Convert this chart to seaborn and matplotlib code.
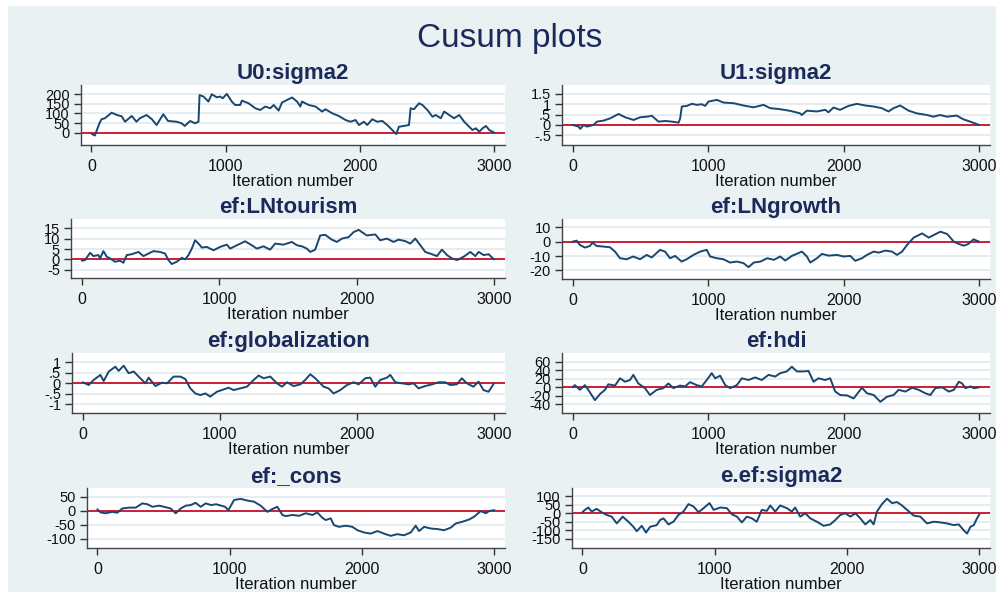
import matplotlib
matplotlib.use("Agg")
import matplotlib.pyplot as plt
import seaborn as sns
import pandas as pd
from matplotlib.patches import Rectangle

sns.set_theme(style="white")
plt.rcParams['font.family'] = ['Liberation Sans', 'DejaVu Sans']

# ---------------- data ----------------
main_title = "Cusum plots"
panel_titles = ["U0:sigma2", "U1:sigma2", "ef:LNtourism", "ef:LNgrowth",
                "ef:globalization", "ef:hdi", "ef:_cons", "e.ef:sigma2"]
x_label = "Iteration number"
x_ticks = [0, 1000, 2000, 3000]

u0_iter = [0, 25, 60, 75, 100, 150, 190, 225, 250, 300, 335, 360, 410, 450, 485, 535, 570, 635, 670, 695,
           735, 770, 797, 805, 834, 871, 896, 933, 958, 978, 1008, 1045, 1070, 1108, 1120, 1170, 1220, 1257,
           1295, 1332, 1357, 1394, 1419, 1456, 1494, 1531, 1556, 1568, 1618, 1668, 1718, 1743, 1793, 1842,
           1892, 1929, 1967, 1992, 2029, 2054, 2091, 2128, 2166, 2203, 2240, 2270, 2290, 2327, 2365, 2377,
           2402, 2440, 2465, 2502, 2540, 2564, 2602, 2627, 2664, 2701, 2739, 2776, 2813, 2838, 2863, 2888,
           2913, 2938, 2963, 3000]
u0_vals = [-5, -15, 50, 70, 75, 104, 92, 85, 57, 87, 57, 75, 92, 70, 40, 96, 61, 57, 49, 35,
           61, 49, 57, 196, 188, 162, 200, 184, 188, 179, 202, 162, 144, 144, 167, 153, 127, 118,
           136, 127, 144, 115, 157, 170, 183, 162, 136, 162, 144, 136, 110, 122, 101, 87,
           66, 57, 66, 40, 57, 40, 70, 57, 61, 40, 14, -7, 31, 35, 40, 127,
           122, 153, 144, 118, 83, 92, 75, 110, 92, 75, 92, 57, 31, 14, 23, 5,
           23, 35, 14, 0]

u1_iter = [0, 44, 57, 81, 106, 155, 180, 229, 278, 339, 388, 450, 499, 548, 585, 634, 684, 733, 782, 794,
           806, 843, 880, 917, 954, 978, 1003, 1065, 1114, 1188, 1261, 1335, 1409, 1458, 1532, 1606, 1679,
           1691, 1729, 1802, 1864, 1888, 1925, 1974, 2036, 2098, 2159, 2221, 2282, 2331, 2368, 2417, 2479,
           2540, 2614, 2663, 2712, 2761, 2835, 2884, 2934, 3000]
u1_vals = [0, -0.08, -0.19, 0, -0.08, 0, 0.16, 0.21, 0.32, 0.53, 0.37, 0.24, 0.37, 0.40, 0.44, 0.16, 0.19,
           0.16, 0.11, 0.32, 0.89, 0.92, 1.02, 0.97, 1.00, 0.92, 1.13, 1.21, 1.08, 1.05, 0.94, 0.85, 0.97,
           0.81, 0.76, 0.68, 0.56, 0.48, 0.69, 0.65, 0.73, 0.61, 0.84, 0.73, 0.92, 1.02, 0.94, 0.89, 0.81,
           0.65, 0.81, 0.94, 0.69, 0.56, 0.48, 0.40, 0.48, 0.40, 0.45, 0.27, 0.16, 0]

tour_iter = [0, 24, 61, 85, 121, 133, 158, 182, 206, 243, 279, 303, 328, 364, 413, 449, 485, 522, 570, 607,
             631, 655, 692, 728, 752, 777, 801, 825, 850, 874, 910, 959, 1007, 1056, 1080, 1129, 1189, 1238,
             1274, 1323, 1371, 1408, 1468, 1529, 1566, 1602, 1638, 1663, 1699, 1735, 1772, 1820, 1857, 1893,
             1942, 1978, 2015, 2039, 2075, 2136, 2172, 2221, 2269, 2306, 2354, 2391, 2427, 2464, 2500, 2549,
             2585, 2621, 2658, 2694, 2731, 2779, 2828, 2864, 2888, 2925, 2961, 3000]
tour_vals = [-0.6, -0.3, 3.2, 1.6, 2.1, 0.5, 4.0, 1.3, 0.5, -1.1, -0.6, -1.6, 2.1, 2.5, 3.6, 1.6, 2.8, 4.0,
             3.6, 2.8, -0.3, -2.2, -1.1, 0.8, 0, 2.1, 5.2, 9.2, 7.6, 5.7, 6.0, 4.4, 6.0, 7.1, 5.2, 6.8, 8.7,
             6.8, 5.2, 6.3, 4.7, 7.6, 7.1, 8.4, 6.8, 6.3, 5.2, 3.6, 4.7, 11.5, 11.8, 9.5, 8.4, 10.0, 10.7,
             13.1, 14.2, 13.1, 11.5, 12.0, 9.2, 10.0, 8.4, 9.5, 8.8, 7.6, 10.0, 6.8, 3.6, 2.5, 1.6, 4.7,
             2.1, 0.5, -0.3, 1.3, 3.6, 1.6, 3.6, 2.1, 2.5, 0]

grow_iter = [0, 30, 54, 91, 128, 148, 177, 227, 276, 313, 350, 399, 448, 498, 547, 584, 645, 682, 719, 756,
             805, 842, 892, 941, 990, 1015, 1064, 1113, 1162, 1212, 1261, 1298, 1337, 1387, 1436, 1485, 1532,
             1569, 1618, 1692, 1729, 1754, 1803, 1840, 1889, 1951, 2000, 2049, 2086, 2135, 2172, 2222, 2259,
             2308, 2357, 2394, 2431, 2468, 2517, 2579, 2628, 2665, 2714, 2764, 2813, 2850, 2887, 2921, 2958,
             3000]
grow_vals = [0, 0.7, -2.3, -4.1, -3.0, -0.7, -3.0, -3.4, -3.9, -6.9, -11.5, -12.2, -10.3, -12.2, -9.2, -11.0,
             -5.7, -6.9, -11.5, -9.9, -13.8, -12.2, -9.2, -6.9, -5.7, -10.3, -11.5, -12.2, -14.5, -13.8,
             -14.9, -17.7, -14.5, -13.8, -11.5, -12.6, -10.3, -13.1, -9.9, -6.9, -10.3, -14.5, -11.5, -8.5,
             -9.7, -9.2, -10.3, -9.9, -13.3, -11.5, -9.2, -6.9, -7.6, -6.2, -6.9, -9.2, -6.9, -2.3, 2.8, 5.7,
             2.8, 4.6, 6.9, 5.3, 0, -1.6, -2.8, -1.6, 1.6, 0]

glob_iter = [0, 44, 80, 129, 153, 190, 238, 262, 299, 335, 372, 420, 457, 481, 530, 578, 615, 663, 712, 748,
             785, 821, 858, 894, 930, 979, 1015, 1064, 1101, 1149, 1198, 1247, 1283, 1320, 1368, 1417, 1453,
             1490, 1538, 1587, 1623, 1660, 1696, 1733, 1757, 1793, 1830, 1879, 1927, 1976, 2012, 2061, 2097,
             2134, 2170, 2219, 2243, 2280, 2328, 2377, 2413, 2449, 2498, 2547, 2595, 2644, 2680, 2729, 2765,
             2802, 2850, 2887, 2923, 2960, 3000]
glob_vals = [0.05, -0.08, 0.16, 0.40, 0.11, 0.56, 0.79, 0.59, 0.84, 0.48, 0.56, 0.24, 0, 0.27, -0.13, 0.03,
             0, 0.32, 0.32, 0.21, -0.24, -0.48, -0.56, -0.48, -0.63, -0.40, -0.32, -0.21, -0.32, -0.24, -0.16,
             0.16, 0.37, 0.24, 0.32, 0, -0.16, 0.05, -0.13, -0.05, 0.16, 0.43, 0.24, 0, -0.16, -0.24, -0.48,
             -0.32, -0.08, 0.05, -0.05, 0.24, 0.27, -0.16, 0.16, 0.27, 0.40, 0.05, 0, -0.05, 0, -0.24, -0.13,
             -0.05, 0.05, 0.05, -0.08, -0.05, 0.24, 0, -0.16, 0.08, -0.32, -0.40, 0]

hdi_iter = [0, 17, 54, 91, 116, 165, 202, 239, 264, 313, 350, 387, 424, 448, 485, 534, 571, 621, 670, 707,
            744, 793, 830, 867, 916, 953, 990, 1027, 1052, 1089, 1126, 1163, 1212, 1249, 1298, 1347, 1396,
            1446, 1495, 1532, 1581, 1618, 1655, 1704, 1741, 1778, 1815, 1864, 1901, 1938, 1975, 2025, 2074,
            2135, 2172, 2222, 2271, 2320, 2369, 2406, 2456, 2505, 2554, 2603, 2640, 2677, 2727, 2776, 2813,
            2850, 2874, 2899, 2936, 2961, 3000]
hdi_vals = [0, 5, -6, 5, -6, -30, -16, -6, 7, 4, 21, 13, 17, 29, 9, -2, -18, -6, -2, 9,
            -2, 4, 2, 12, 5, 2, 17, 33, 21, 27, 5, -2, 5, 21, 17, 23, 17,
            29, 25, 33, 37, 48, 37, 37, 38, 13, 21, 17, 21, -10, -18, -19, -26,
            -1, -14, -18, -34, -22, -18, -6, -10, -1, -6, -14, -18, -2, 0, -10, -6,
            13, 9, -2, 2, -2, 0]

cons_iter = [0, 25, 63, 113, 151, 189, 239, 290, 340, 378, 416, 466, 504, 554, 592, 630, 668, 705, 743, 781,
             819, 859, 897, 935, 965, 990, 1033, 1083, 1134, 1184, 1234, 1285, 1322, 1360, 1398, 1423, 1474,
             1524, 1574, 1625, 1662, 1700, 1725, 1763, 1788, 1826, 1877, 1927, 1965, 2015, 2065, 2116, 2166,
             2216, 2267, 2317, 2368, 2405, 2431, 2469, 2519, 2569, 2620, 2670, 2708, 2758, 2809, 2847, 2897,
             2935, 2960, 3000]
cons_vals = [5, -6, -9, -4, -7, 8, 11, 11, 26, 23, 14, 18, 14, 8, -9, 8, 18, 20, 28, 14,
             26, 20, 23, 18, 14, 2, 38, 42, 36, 32, 18, -4, 6, 14, -15, -19, -15,
             -18, -9, -15, -6, -25, -33, -27, -51, -57, -53, -57, -69, -77, -81, -72, -81,
             -89, -83, -87, -77, -53, -72, -57, -63, -65, -69, -60, -45, -39, -31, -21, -1,
             -9, -1, 2]

esig_iter = [0, 20, 45, 71, 108, 146, 184, 222, 260, 305, 348, 386, 411, 449, 481, 512, 562, 587, 613, 651,
             688, 726, 764, 802, 840, 878, 916, 961, 992, 1043, 1092, 1130, 1168, 1205, 1243, 1281, 1318, 1356,
             1394, 1420, 1457, 1495, 1545, 1583, 1608, 1646, 1684, 1722, 1772, 1823, 1873, 1911, 1949, 1987,
             2025, 2063, 2100, 2138, 2176, 2201, 2226, 2264, 2302, 2340, 2378, 2415, 2453, 2504, 2554, 2604,
             2655, 2705, 2755, 2806, 2844, 2881, 2907, 2932, 2957, 2982, 3000]
esig_vals = [6, 20, 34, 10, 26, 6, -10, -20, -60, -20, -50, -80, -106, -74, -114, -80, -70, -40, -30, -66,
             -50, -10, 10, 54, 40, 6, 30, 60, 20, 34, 30, -6, -20, -54, -20, -30, -50, 20,
             14, 46, 10, 46, 30, 10, 34, -20, 0, -30, -50, -74, -66, -40, -10, 0,
             -20, 0, -30, -66, -40, -66, 10, 54, 86, 60, 66, 46, 20, -14, -20, -60,
             -50, -54, -60, -70, -66, -100, -120, -80, -70, -30, -6]

series_iters = [u0_iter, u1_iter, tour_iter, grow_iter, glob_iter, hdi_iter, cons_iter, esig_iter]
series_vals = [u0_vals, u1_vals, tour_vals, grow_vals, glob_vals, hdi_vals, cons_vals, esig_vals]

y_ticks = [[0, 50, 100, 150, 200],
           [-0.5, 0, 0.5, 1, 1.5],
           [-5, 0, 5, 10, 15],
           [-20, -10, 0, 10],
           [-1, -0.5, 0, 0.5, 1],
           [-40, -20, 0, 20, 40, 60],
           [-100, -50, 0, 50],
           [-150, -100, -50, 0, 50, 100]]
y_ticklabels = [["0", "50", "100", "150", "200"],
                ["-.5", "0", ".5", "1", "1.5"],
                ["-5", "0", "5", "10", "15"],
                ["-20", "-10", "0", "10"],
                ["-1", "-.5", "0", ".5", "1"],
                ["-40", "-20", "0", "20", "40", "60"],
                ["-100", "-50", "0", "50"],
                ["-150", "-100", "-50", "0", "50", "100"]]

# ---------------- layout / style ----------------
W, H = 996, 600
BG = "#e9f1f3"
NAVY = "#1b2a5a"
LINE = "#1a476f"
RED = "#cc1f36"
GRID = "#e3ecef"

y_limits = [(-64, 248), (-0.97, 1.93), (-8.9, 19.4), (-25.9, 15.7),
            (-1.41, 1.44), (-60, 80), (-132, 80.5), (-205, 149)]
# pixel boxes (left, top, right, bottom)
boxes = [(81, 85, 505, 145), (562, 85, 990, 145),
         (71, 219, 505, 278), (562, 219, 990, 279),
         (72, 353, 505, 413), (562, 353, 990, 413),
         (87, 488, 505, 548), (572, 488, 990, 548)]

fig = plt.figure(figsize=(W / 100, H / 100), dpi=100, facecolor="white")
fig.patches.append(Rectangle((8 / W, 1 - 592 / H), (W - 8) / W, (592 - 6) / H,
                             transform=fig.transFigure, facecolor=BG, edgecolor="none",
                             zorder=-10))

fig.text(510 / W, 1 - 46.5 / H, main_title, ha="center", va="baseline",
         fontsize=24, color=NAVY)

for i in range(8):
    l, t, r, b = boxes[i]
    ax = fig.add_axes([l / W, 1 - b / H, (r - l) / W, (b - t) / H])
    ax.set_facecolor("white")
    df = pd.DataFrame({"iteration": series_iters[i], "value": series_vals[i]})
    for yt in y_ticks[i]:
        ax.axhline(yt, color=GRID, linewidth=1.3, zorder=0)
    ax.axhline(0, color=RED, linewidth=1.4, zorder=2)
    sns.lineplot(data=df, x="iteration", y="value", ax=ax, color=LINE,
                 linewidth=1.4, zorder=3, estimator=None, sort=False)
    ax.set_xlim(-78, 3080)
    ax.set_ylim(*y_limits[i])
    ax.set_xticks(x_ticks)
    ax.set_xticklabels([str(v) for v in x_ticks])
    ax.set_yticks(y_ticks[i])
    ax.set_yticklabels(y_ticklabels[i])
    ax.tick_params(axis="both", which="major", colors="#333333",
                   labelcolor="#111111", length=5, width=1, direction="out", pad=3)
    ax.tick_params(axis="x", pad=5, labelsize=11.5)
    ax.tick_params(axis="y", labelsize=10.5)
    ax.tick_params(left=True, bottom=True)
    ax.grid(False)
    for s in ["top", "right"]:
        ax.spines[s].set_visible(False)
    for s in ["left", "bottom"]:
        ax.spines[s].set_color("#444444")
        ax.spines[s].set_linewidth(1.0)
    ax.set_xlabel(x_label, fontsize=12, color="#111111", labelpad=0)
    ax.set_ylabel("")
    ax.text(0.5, (b - t + 6) / (b - t), panel_titles[i], transform=ax.transAxes,
            ha="center", va="baseline", fontsize=16, fontweight="bold", color=NAVY)

fig.savefig("out.png", dpi=100, facecolor="white")
